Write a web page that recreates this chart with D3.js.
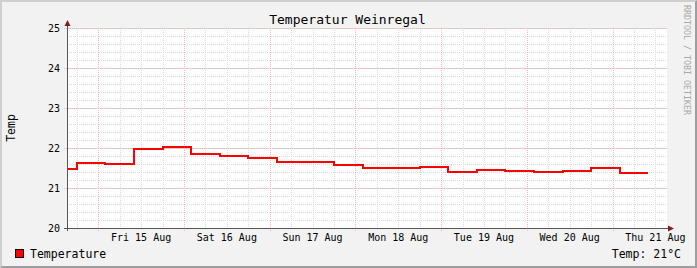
<!DOCTYPE html>
<html>
<head>
<meta charset="utf-8">
<script src="https://cdn.jsdelivr.net/npm/d3@7/dist/d3.min.js"></script>
<style>
  html, body { margin: 0; padding: 0; background: #f2f2f2; }
  svg { display: block; }
  text { font-family: "DejaVu Sans Mono", monospace; }
</style>
</head>
<body>
<svg id="chart" width="697" height="268"></svg>
<script>
// ---- data ----
const chartTitle = "Temperatur Weinregal";
const yAxisTitle = "Temp";
const seriesName = "Temperature";
const currentLabel = "Temp: 21°C";
const watermark = "RRDTOOL / TOBI OETIKER";
const chartStart = "2025-08-14T15:15:00Z";
const chartEnd = "2025-08-21T15:15:00Z";
// end time of each 8-hour consolidated step
const stepEnds = [
  "2025-08-14T18:00:00Z", "2025-08-15T02:00:00Z", "2025-08-15T10:00:00Z",
  "2025-08-15T18:00:00Z", "2025-08-16T02:00:00Z", "2025-08-16T10:00:00Z",
  "2025-08-16T18:00:00Z", "2025-08-17T02:00:00Z", "2025-08-17T10:00:00Z",
  "2025-08-17T18:00:00Z", "2025-08-18T02:00:00Z", "2025-08-18T10:00:00Z",
  "2025-08-18T18:00:00Z", "2025-08-19T02:00:00Z", "2025-08-19T10:00:00Z",
  "2025-08-19T18:00:00Z", "2025-08-20T02:00:00Z", "2025-08-20T10:00:00Z",
  "2025-08-20T18:00:00Z", "2025-08-21T02:00:00Z", "2025-08-21T10:00:00Z"
];
const temperature = [
  21.47, 21.62, 21.59,
  21.97, 22.02, 21.84,
  21.79, 21.74, 21.64,
  21.64, 21.57, 21.49,
  21.49, 21.52, 21.39,
  21.46, 21.43, 21.39,
  21.42, 21.49, 21.37
];
const yTicks = [20, 21, 22, 23, 24, 25];
const dayTicks = ["2025-08-15", "2025-08-16", "2025-08-17", "2025-08-18", "2025-08-19", "2025-08-20", "2025-08-21"];
const dayLabels = ["Fri 15 Aug", "Sat 16 Aug", "Sun 17 Aug", "Mon 18 Aug", "Tue 19 Aug", "Wed 20 Aug", "Thu 21 Aug"];

// ---- layout ----
const W = 697, H = 268;
const plot = { left: 67, right: 667, top: 28, bottom: 228 };

const svg = d3.select("#chart");
const t0 = new Date(chartStart), t1 = new Date(chartEnd);
const x = d3.scaleUtc().domain([t0, t1]).range([plot.left, plot.right]);
const y = d3.scaleLinear().domain([20, 25]).range([plot.bottom, plot.top]);

// background + 3D frame
svg.append("rect").attr("width", W).attr("height", H).attr("fill", "#f2f2f2");
svg.append("path").attr("d", `M0,0H${W}V${H}H0Z M2,2V${H-2}H${W-2}V2Z`)
  .attr("fill", "#cfcfcf").attr("fill-rule", "evenodd");
svg.append("path").attr("d", `M${W},0V${H}H0L2,${H-2}H${W-2}V2Z`).attr("fill", "#9e9e9e");

// canvas
svg.append("rect").attr("x", plot.left).attr("y", plot.top)
  .attr("width", plot.right - plot.left).attr("height", plot.bottom - plot.top)
  .attr("fill", "#ffffff");

const px = v => Math.round(v) + 0.5;
const g = svg.append("g");

// minor grid
const minorX = d3.utcHour.every(6).range(t0, t1);
const minorY = d3.range(20, 25.001, 0.2);
g.selectAll(".mx").data(minorX).join("line")
  .attr("x1", d => px(x(d))).attr("x2", d => px(x(d)))
  .attr("y1", plot.top).attr("y2", plot.bottom)
  .attr("stroke", "#dadada").attr("stroke-dasharray", "1,1");
g.selectAll(".my").data(minorY).join("line")
  .attr("x1", plot.left).attr("x2", plot.right)
  .attr("y1", d => px(y(d))).attr("y2", d => px(y(d)))
  .attr("stroke", "#dadada").attr("stroke-dasharray", "1,1");

// major grid
const dayDates = dayTicks.map(d => new Date(d + "T00:00:00Z"));
g.selectAll(".Mx").data(dayDates).join("line")
  .attr("x1", d => px(x(d))).attr("x2", d => px(x(d)))
  .attr("y1", plot.top).attr("y2", plot.bottom + 3)
  .attr("stroke", "#f2b4b4").attr("stroke-dasharray", "1,1");
g.selectAll(".My").data(yTicks).join("line")
  .attr("x1", plot.left - 3).attr("x2", plot.right)
  .attr("y1", d => px(y(d))).attr("y2", d => px(y(d)))
  .attr("stroke", "#f2b4b4").attr("stroke-dasharray", "1,1");

// data line (step)
const pts = [{ t: t0, v: temperature[0] }].concat(
  stepEnds.map((s, i) => ({ t: new Date(s), v: temperature[i] })));
const line = d3.line()
  .x(d => Math.round(x(d.t)))
  .y(d => Math.round(y(d.v)))
  .curve(d3.curveStepBefore);
svg.append("path").datum(pts).attr("d", line)
  .attr("fill", "none").attr("stroke", "#ff0000").attr("stroke-width", 2)
  .attr("shape-rendering", "crispEdges");

// axes
svg.append("line").attr("x1", px(plot.left)).attr("x2", px(plot.left))
  .attr("y1", plot.bottom + 3).attr("y2", plot.top - 6)
  .attr("stroke", "#555555");
svg.append("line").attr("x1", plot.left - 3).attr("x2", plot.right + 5)
  .attr("y1", px(plot.bottom)).attr("y2", px(plot.bottom))
  .attr("stroke", "#555555");
svg.append("path").attr("d", `M${plot.left - 2.5},${plot.top - 2}L${plot.left + 3.5},${plot.top - 2}L${plot.left + 0.5},${plot.top - 8}Z`)
  .attr("fill", "#801f1f");
svg.append("path").attr("d", `M${plot.right + 1},${plot.bottom - 2.5}L${plot.right + 1},${plot.bottom + 3.5}L${plot.right + 7},${plot.bottom + 0.5}Z`)
  .attr("fill", "#801f1f");

// y tick labels
svg.selectAll(".yl").data(yTicks).join("text")
  .attr("x", plot.left - 7).attr("y", d => y(d) + 3.5)
  .attr("text-anchor", "end").attr("font-size", 10).attr("fill", "#000")
  .text(d => d);

// x tick labels (centered at noon)
svg.selectAll(".xl").data(dayDates).join("text")
  .attr("x", (d, i) => x(d3.utcHour.offset(d, 12)))
  .attr("y", plot.bottom + 13)
  .attr("text-anchor", "middle").attr("font-size", 10).attr("fill", "#000")
  .text((d, i) => dayLabels[i]);

// title
svg.append("text").attr("x", 347.5).attr("y", 24)
  .attr("text-anchor", "middle").attr("font-size", 13).attr("fill", "#000")
  .text(chartTitle);

// y axis title
svg.append("text").attr("transform", `translate(15,${(plot.top + plot.bottom) / 2}) rotate(-90)`)
  .attr("text-anchor", "middle").attr("font-size", 11.5).attr("fill", "#000")
  .text(yAxisTitle);

// watermark
svg.append("text").attr("transform", `translate(684,5) rotate(90)`)
  .attr("text-anchor", "start").attr("font-size", 8.3).attr("fill", "#a8a8a8")
  .text(watermark);

// legend
svg.append("rect").attr("x", 15.5).attr("y", 249.5).attr("width", 8).attr("height", 8)
  .attr("fill", "#ff0000").attr("stroke", "#000");
svg.append("text").attr("x", 30).attr("y", 258)
  .attr("font-size", 11.5).attr("fill", "#000").text(seriesName);
svg.append("text").attr("x", 681).attr("y", 258).attr("text-anchor", "end")
  .attr("font-size", 11.5).attr("fill", "#000").text(currentLabel);
</script>
</body>
</html>
